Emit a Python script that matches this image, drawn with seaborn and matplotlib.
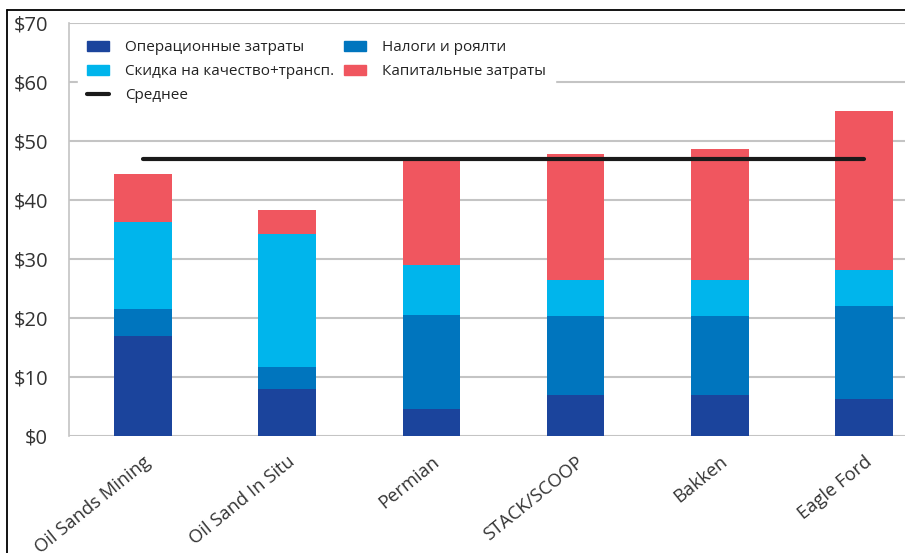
import matplotlib
matplotlib.use("Agg")
import matplotlib.pyplot as plt
from matplotlib.patches import Patch
from matplotlib.lines import Line2D
import seaborn as sns
import pandas as pd
import numpy as np

categories = ["Oil Sands Mining", "Oil Sand In Situ", "Permian", "STACK/SCOOP", "Bakken", "Eagle Ford"]
opex = [16.9, 7.9, 4.5, 6.9, 6.9, 6.2]
taxes = [4.7, 3.8, 16.0, 13.4, 13.4, 15.9]
discount = [14.6, 22.5, 8.5, 6.2, 6.2, 6.0]
capex = [8.2, 4.1, 17.6, 21.3, 22.1, 27.0]
average = 46.9
yticks = [0, 10, 20, 30, 40, 50, 60, 70]
ytick_labels = ["$0", "$10", "$20", "$30", "$40", "$50", "$60", "$70"]

series_names = ["Операционные затраты", "Налоги и роялти", "Скидка на качество+трансп.", "Капитальные затраты"]
avg_name = "Среднее"
colors = ["#1B449C", "#0075BE", "#00B5EC", "#F0565F"]

sns.set_theme(style="white")
plt.rcParams["font.family"] = ["Open Sans", "DejaVu Sans"]

fig = plt.figure(figsize=(9.05, 5.53), dpi=100)
W, H = 905, 553
AX_L, AX_B, AX_T = 69, 436, 23
ax = fig.add_axes([AX_L / W, 1 - AX_B / H, 1 - AX_L / W, (AX_B - AX_T) / H])

stack = np.cumsum(np.array([opex, taxes, discount, capex]), axis=0)
for i in range(3, -1, -1):
    df = pd.DataFrame({"region": categories, "value": stack[i]})
    sns.barplot(data=df, x="region", y="value", color=colors[i], saturation=1,
                width=0.4, errorbar=None, ax=ax, linewidth=0, zorder=2)

ax.plot([0, len(categories) - 1], [average, average], color="#1a1a1a", lw=3,
        solid_capstyle="round", zorder=3)

ax.set_xlim(-0.514, len(categories) - 1 + 0.285)
ax.set_ylim(0, 70)
ax.set_yticks(yticks)
ax.set_yticklabels(ytick_labels)
ax.set_xlabel("")
ax.set_ylabel("")
ax.yaxis.grid(True, color="#c4c4c4", lw=1.5, zorder=0)
ax.set_axisbelow(True)
for s in ["top", "right", "bottom"]:
    ax.spines[s].set_visible(False)
ax.spines["left"].set_color("#c4c4c4")
ax.spines["left"].set_linewidth(1.2)
ax.tick_params(axis="y", length=0, pad=15, labelsize=14.5, labelcolor="#333333")
ax.tick_params(axis="x", length=0, pad=12, labelsize=13.2, labelcolor="#333333")
for lab in ax.get_xticklabels():
    lab.set_rotation(39)
    lab.set_ha("right")
    lab.set_va("top")
    lab.set_rotation_mode("anchor")

handles = [Patch(color=colors[0]), Patch(color=colors[2]),
           Line2D([0], [0], color="#1a1a1a", lw=3),
           Patch(color=colors[1]), Patch(color=colors[3])]
labels = [series_names[0], series_names[2], avg_name, series_names[1], series_names[3]]
ax_w = W - AX_L
ax_h = AX_B - AX_T
leg = ax.legend(handles, labels, ncol=2, loc="upper left",
                bbox_to_anchor=((78 - AX_L) / ax_w, 1 - (31 - AX_T) / ax_h),
                fontsize=11, frameon=True, framealpha=1, fancybox=False,
                borderpad=0.6, handlelength=1.45, handleheight=0.6,
                handletextpad=1.05, columnspacing=0.6, labelspacing=0.6,
                borderaxespad=0)
leg.get_frame().set_edgecolor("white")
leg.get_frame().set_facecolor("white")
for t in leg.get_texts():
    t.set_color("#222222")

fig.add_artist(Line2D([7 / W, 1], [1 - 10 / H, 1 - 10 / H], transform=fig.transFigure,
                      color="black", lw=1.3))
fig.add_artist(Line2D([7 / W, 7 / W], [0, 1 - 10 / H], transform=fig.transFigure,
                      color="black", lw=1.3))

fig.savefig("out.png", dpi=100)
